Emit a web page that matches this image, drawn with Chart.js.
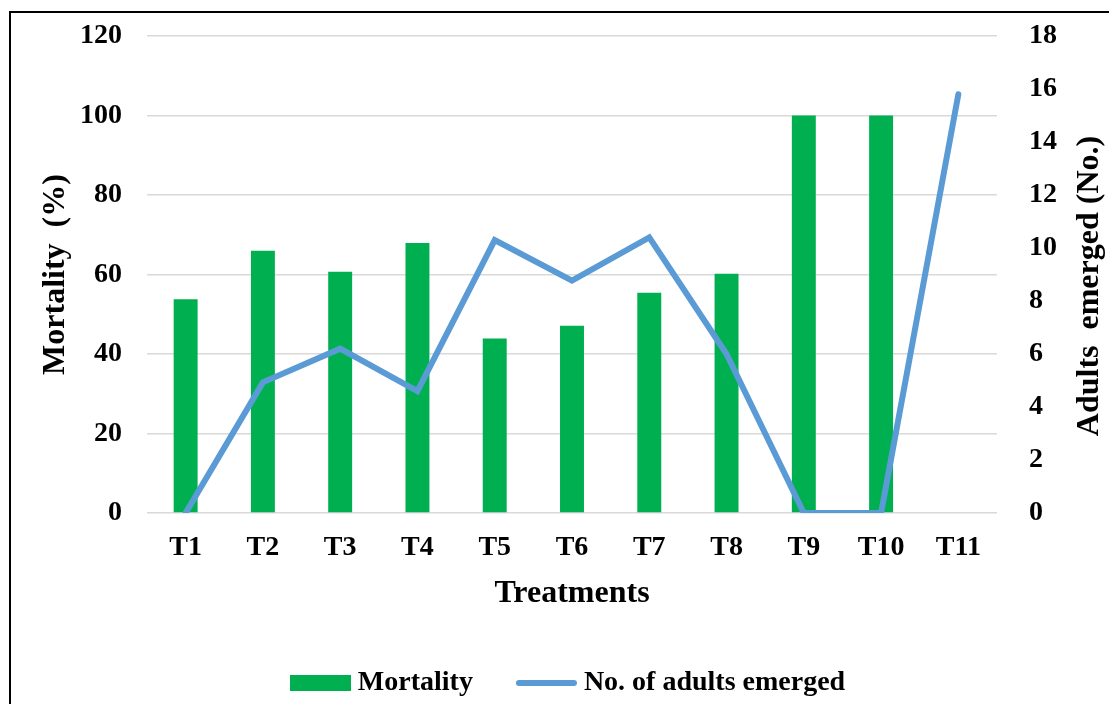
<!DOCTYPE html>
<html>
<head>
<meta charset="utf-8">
<script src="https://cdn.jsdelivr.net/npm/chart.js@4"></script>
<style>
  body { margin: 0; background: #fff; }
  #wrap { position: relative; width: 1109px; height: 704px; overflow: hidden; }
  #frame { position: absolute; left: 9px; top: 11px; width: 1200px; height: 800px;
           border-left: 2px solid #000; border-top: 2px solid #000; pointer-events: none; }
</style>
</head>
<body>
<div id="wrap">
  <canvas id="chart" width="1109" height="704"></canvas>
  <div id="frame"></div>
</div>
<script>
var treatments = ['T1', 'T2', 'T3', 'T4', 'T5', 'T6', 'T7', 'T8', 'T9', 'T10', 'T11'];
var mortality = [53.8, 66.0, 60.7, 67.9, 43.9, 47.1, 55.4, 60.2, 100, 100, 0];
var adultsEmerged = [0, 4.93, 6.2, 4.6, 10.3, 8.77, 10.4, 6.0, 0, 0, 15.8];
var mortalityTicks = [0, 20, 40, 60, 80, 100, 120];
var adultsTicks = [0, 2, 4, 6, 8, 10, 12, 14, 16, 18];

var serif = 'Liberation Serif, Times New Roman, serif';
var tickFont = {family: serif, size: 28, weight: 'bold'};
var titleFont = {family: serif, size: 32, weight: 'bold'};

// legend markers as small canvases so the gap to the text can be tighter
function legendRect(color) {
    var cv = document.createElement('canvas');
    cv.width = 61; cv.height = 16;
    var c = cv.getContext('2d');
    c.fillStyle = color;
    c.fillRect(0, 0, 61, 16);
    return cv;
}
function legendLine(color) {
    var cv = document.createElement('canvas');
    cv.width = 63; cv.height = 8;
    var c = cv.getContext('2d');
    c.strokeStyle = color;
    c.lineWidth = 6;
    c.lineCap = 'round';
    c.beginPath();
    c.moveTo(4, 4);
    c.lineTo(59, 4);
    c.stroke();
    return cv;
}

// right axis title reads bottom-to-top in the original, so draw it by hand
var rightTitle = {
    id: 'rightTitle',
    afterDraw: function(chart) {
        var c = chart.ctx;
        c.save();
        c.translate(1090, 286);
        c.rotate(-Math.PI / 2);
        c.font = 'bold 32px ' + serif;
        c.fillStyle = '#000';
        c.textAlign = 'center';
        c.textBaseline = 'middle';
        c.fillText('Adults  emerged (No.)', 0, 0);
        c.restore();
    }
};

var ctx = document.getElementById('chart').getContext('2d');
var chart = new Chart(ctx, {
    data: {
        labels: treatments,
        datasets: [{
            type: 'bar',
            label: 'Mortality',
            data: mortality,
            backgroundColor: '#00B050',
            borderWidth: 0,
            barPercentage: 0.31,
            categoryPercentage: 1,
            yAxisID: 'y',
            order: 1,
            pointStyle: legendRect('#00B050')
        }, {
            type: 'line',
            label: 'No. of adults emerged',
            data: adultsEmerged,
            borderColor: '#5B9BD5',
            backgroundColor: '#5B9BD5',
            borderWidth: 6,
            pointRadius: 0,
            tension: 0,
            borderCapStyle: 'round',
            yAxisID: 'y1',
            order: 0,
            pointStyle: legendLine('#5B9BD5')
        }]
    },
    options: {
        responsive: false,
        devicePixelRatio: 1,
        animation: false,
        layout: {
            padding: {top: 36, left: 33, right: 0, bottom: -3}
        },
        plugins: {
            title: {display: false},
            tooltip: {enabled: false},
            legend: {
                display: true,
                position: 'bottom',
                labels: {
                    usePointStyle: true,
                    pointStyleWidth: 47,
                    boxHeight: 16,
                    padding: 36,
                    color: '#000',
                    font: {family: serif, size: 28, weight: 'bold'},
                    generateLabels: function(chart) {
                        var items = Chart.defaults.plugins.legend.labels.generateLabels(chart);
                        items.sort(function(a, b) { return a.datasetIndex - b.datasetIndex; });
                        items[0].text = items[0].text + '  ';
                        return items;
                    }
                }
            }
        },
        scales: {
            x: {
                grid: {display: false},
                border: {display: false},
                ticks: {color: '#000', font: tickFont, padding: 10, maxRotation: 0},
                title: {display: true, text: 'Treatments', color: '#000', font: titleFont, padding: {top: 4, bottom: 20}},
                afterFit: function(scale) { scale.height = 120; }
            },
            y: {
                position: 'left',
                min: 0,
                max: 120,
                afterBuildTicks: function(scale) {
                    scale.ticks = mortalityTicks.map(function(v) { return {value: v}; });
                },
                grid: {color: '#d9d9d9', lineWidth: 1.5, drawTicks: false},
                border: {display: false},
                ticks: {color: '#000', font: tickFont, padding: 25},
                title: {display: true, text: 'Mortality  (%)', color: '#000', font: titleFont, padding: 4},
                afterFit: function(scale) {
                    scale.width = 114;
                    scale.paddingTop = 0;
                    scale.paddingBottom = 0;
                }
            },
            y1: {
                position: 'right',
                min: 0,
                max: 18,
                afterBuildTicks: function(scale) {
                    scale.ticks = adultsTicks.map(function(v) { return {value: v}; });
                },
                grid: {display: false},
                border: {display: false},
                ticks: {color: '#000', font: tickFont, padding: 24},
                title: {display: false},
                afterFit: function(scale) {
                    scale.width = 112;
                    scale.paddingTop = 0;
                    scale.paddingBottom = 0;
                }
            }
        }
    },
    plugins: [rightTitle]
});
</script>
</body>
</html>
